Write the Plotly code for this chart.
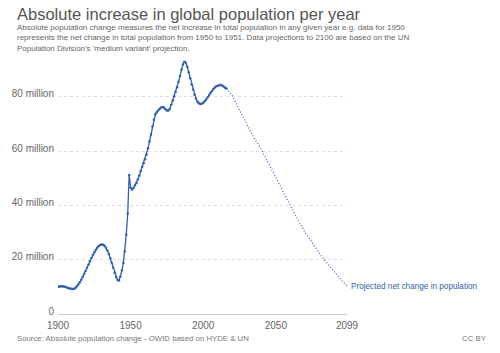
import plotly.graph_objects as go

# Historical annual absolute population change (millions), 1900-2016
hist_years = list(range(1900, 2017))
hist_values = [
    10.0, 10.1, 10.2, 10.2, 10.1, 10.0, 9.8, 9.6, 9.4, 9.3,      # 1900-1909
    9.2, 9.3, 9.6, 10.2, 10.9, 11.7, 12.6, 13.6, 14.7, 15.8,     # 1910-1919
    17.0, 18.2, 19.4, 20.6, 21.7, 22.7, 23.6, 24.4, 25.0, 25.4,  # 1920-1929
    25.6, 25.5, 25.1, 24.4, 23.4, 22.1, 20.5, 18.8, 17.0, 15.2,  # 1930-1939
    13.6, 12.5, 12.3, 13.8, 16.0, 18.8, 23.0, 29.2, 37.0, 51.2,  # 1940-1949
    46.5, 45.8, 46.4, 47.4, 48.2, 49.5, 51.0, 52.6, 54.2, 55.5,  # 1950-1959
    57.0, 58.6, 61.0, 63.5, 66.0, 69.0, 71.5, 73.4, 74.3, 75.0,  # 1960-1969
    75.6, 76.0, 76.2, 76.0, 75.4, 74.9, 74.9, 75.6, 77.0, 78.6,  # 1970-1979
    80.2, 81.8, 83.5, 85.5, 87.6, 89.9, 91.8, 92.9, 92.5, 91.0,  # 1980-1989
    89.0, 86.8, 84.5, 82.6, 80.8, 79.3, 78.2, 77.6, 77.3, 77.4,  # 1990-1999
    77.8, 78.3, 79.0, 79.8, 80.6, 81.4, 82.1, 82.8, 83.4, 83.8,  # 2000-2009
    84.0, 84.2, 84.3, 84.1, 83.7, 83.3, 83.0,                    # 2010-2016
]

# UN medium-variant projection (millions)
proj_years = [2016, 2020, 2025, 2030, 2035, 2040, 2045, 2050, 2055, 2060,
              2065, 2070, 2075, 2080, 2085, 2090, 2095, 2099]
proj_values = [83.0, 80.5, 75.0, 70.0, 64.8, 60.6, 55.4, 50.5, 45.0, 39.8,
               34.8, 30.2, 26.0, 22.3, 18.9, 15.6, 12.5, 10.3]

y_tickvals = [0, 20, 40, 60, 80]
y_ticktext = ["0", "20 million", "40 million", "60 million", "80 million"]
x_tickvals = [1900, 1950, 2000, 2050, 2099]
x_ticktext = ["1900", "1950", "2000", "2050", "2099"]

title = "Absolute increase in global population per year"
subtitle = ("Absolute population change measures the net increase in total population in any given year e.g. data for 1950<br>"
            "represents the net change in total population from 1950 to 1951. Data projections to 2100 are based on the UN<br>"
            "Population Division's 'medium variant' projection.")
source = "Source: Absolute population change - OWID based on HYDE & UN"
license_text = "CC BY"
series_label = "Projected net change in population"

BLUE = "#3360a9"
FONT = "Liberation Sans, Arial, sans-serif"

W, H = 500, 353
L, R, T, B = 52, 347, 60, 314.4
pw, ph = R - L, B - T

def px(x):
    return (x - L) / pw

def py(y):
    return (B - y) / ph

fig = go.Figure()

fig.add_trace(go.Scatter(
    x=proj_years, y=proj_values, mode="lines",
    line=dict(color=BLUE, width=1.2, dash="1px,2px"),
    hoverinfo="skip", showlegend=False))

fig.add_trace(go.Scatter(
    x=hist_years, y=hist_values, mode="lines+markers",
    line=dict(color=BLUE, width=1.3),
    marker=dict(color=BLUE, size=2.5),
    showlegend=False))

annotations = [
    dict(text=title, xref="paper", yref="paper", x=px(8), y=py(14),
         xanchor="left", yanchor="middle", showarrow=False,
         font=dict(family=FONT, size=16.5, color="#555555")),
    dict(text=subtitle, xref="paper", yref="paper", x=px(8), y=py(38),
         xanchor="left", yanchor="middle", showarrow=False, align="left",
         font=dict(family=FONT, size=8, color="#666666")),
    dict(text=source, xref="paper", yref="paper", x=px(8), y=py(339),
         xanchor="left", yanchor="middle", showarrow=False,
         font=dict(family=FONT, size=7.8, color="#777777")),
    dict(text=license_text, xref="paper", yref="paper", x=px(492), y=py(339),
         xanchor="right", yanchor="middle", showarrow=False,
         font=dict(family=FONT, size=7.8, color="#777777")),
    dict(text=series_label, x=proj_years[-1], y=proj_values[-1],
         xref="x", yref="y", xanchor="left", yanchor="middle", xshift=2,
         showarrow=False, font=dict(family=FONT, size=8.2, color=BLUE)),
]

fig.update_layout(
    width=W, height=H,
    margin=dict(l=L, r=W - R, t=T, b=H - B),
    paper_bgcolor="white", plot_bgcolor="white",
    font=dict(family=FONT, color="#666666"),
    annotations=annotations,
    xaxis=dict(range=[1900, 2099], tickvals=x_tickvals, ticktext=x_ticktext,
               showgrid=False, zeroline=False, showline=False,
               ticks="", ticklabelstandoff=4,
               tickfont=dict(size=10, color="#666666")),
    yaxis=dict(range=[0, 93.5], tickvals=y_tickvals, ticktext=y_ticktext,
               showgrid=True, gridcolor="#dddddd", griddash="dot", gridwidth=1,
               zeroline=True, zerolinecolor="#cccccc", zerolinewidth=1,
               showline=False, ticks="", ticklabelstandoff=3,
               ticklabelshift=-3,
               tickfont=dict(size=10, color="#666666")),
)

fig.write_html("out.html")
